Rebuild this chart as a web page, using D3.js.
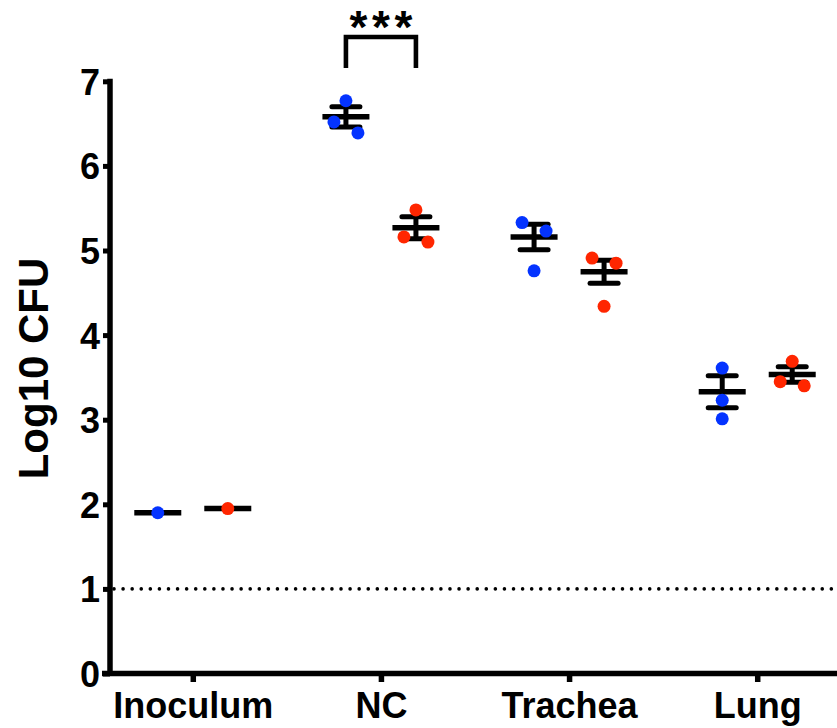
<!DOCTYPE html>
<html>
<head>
<meta charset="utf-8">
<script src="https://cdn.jsdelivr.net/npm/d3@7"></script>
<style>
  html, body { margin: 0; padding: 0; background: #fff; }
  svg { display: block; }
  text { font-family: "Liberation Sans", Arial, Helvetica, sans-serif; font-weight: bold; fill: #000; }
</style>
</head>
<body>
<svg id="chart" width="837" height="728"></svg>
<script>
// ---- data ----
const categories = ["Inoculum", "NC", "Trachea", "Lung"];
const seriesNames = ["blue", "red"];
const blueValues = [[1.90], [6.77, 6.52, 6.39], [5.33, 5.23, 4.76], [3.61, 3.23, 3.01]];
const redValues  = [[1.95], [5.48, 5.16, 5.10], [4.91, 4.85, 4.34], [3.69, 3.45, 3.40]];
const blueMeans = [1.90, 6.58, 5.16, 3.33];
const blueSEM   = [0, 0.12, 0.15, 0.19];
const redMeans  = [1.95, 5.27, 4.75, 3.535];
const redSEM    = [0, 0.13, 0.136, 0.091];
const yTicks = [0, 1, 2, 3, 4, 5, 6, 7];
const limitOfDetection = 1;
const yTitle = "Log10 CFU";
const significance = { from: "NC", label: "***" };

const colors = { blue: "#0433ff", red: "#ff2600" };

const svg = d3.select("#chart");
const x = d3.scalePoint().domain(categories).range([110, 840]).padding(0.44);
const sub = d3.scalePoint().domain(seriesNames).range([-35, 35]);
const y = d3.scaleLinear().domain([0, 7]).range([673.5, 81.3]);

const series = [
  { name: "blue", values: blueValues, means: blueMeans, sem: blueSEM },
  { name: "red", values: redValues, means: redMeans, sem: redSEM }
];

// limit of detection dotted line
svg.append("line")
  .attr("x1", x.range()[0] + 4).attr("x2", 837)
  .attr("y1", y(limitOfDetection)).attr("y2", y(limitOfDetection))
  .attr("stroke", "#000").attr("stroke-width", 3.6)
  .attr("stroke-linecap", "round").attr("stroke-dasharray", "0.01 9.07");

// axes
const yAxis = d3.axisLeft(y).tickValues(yTicks).tickFormat(d3.format("d"))
  .tickSize(7).tickSizeOuter(0).tickPadding(3);
const gy = svg.append("g").attr("transform", "translate(110,0)").call(yAxis);
gy.select(".domain").attr("stroke-width", 5.5).attr("d", `M0,${y(0)}V${y(7) - 2.5}`);
gy.selectAll(".tick line").attr("stroke-width", 5).attr("x1", 0);
gy.selectAll(".tick text").attr("font-size", 36).attr("dy", "0.36em").attr("font-family", null);

const xAxis = d3.axisBottom(x).tickSize(8.5).tickSizeOuter(0).tickPadding(10);
const gx = svg.append("g").attr("transform", `translate(0,${y(0)})`).call(xAxis);
gx.select(".domain").attr("stroke-width", 5.5).attr("d", `M102,0H840`);
gx.selectAll(".tick line").attr("stroke-width", 5.5);
gx.selectAll(".tick text").attr("font-size", 36).attr("font-family", null);

// axis title
svg.append("text")
  .attr("transform", "translate(48,368.5) rotate(-90)")
  .attr("text-anchor", "middle")
  .attr("font-size", 42)
  .text(yTitle);

// error bars and means
const meanHalf = 23.5, capHalf = 14;
series.forEach(s => {
  const g = svg.append("g");
  categories.forEach((c, i) => {
    const cx = x(c) + sub(s.name);
    const m = s.means[i], e = s.sem[i];
    if (e > 0) {
      g.append("line").attr("x1", cx).attr("x2", cx).attr("y1", y(m + e)).attr("y2", y(m - e))
        .attr("stroke", "#000").attr("stroke-width", 5);
      [m + e, m - e].forEach(v => {
        g.append("line").attr("x1", cx - capHalf).attr("x2", cx + capHalf)
          .attr("y1", y(v)).attr("y2", y(v))
          .attr("stroke", "#000").attr("stroke-width", 5).attr("stroke-linecap", "round");
      });
    }
    g.append("line").attr("x1", cx - meanHalf).attr("x2", cx + meanHalf)
      .attr("y1", y(m)).attr("y2", y(m))
      .attr("stroke", "#000").attr("stroke-width", 5.5);
  });
});

// points with simple collision spreading
const r = 6.5;
series.forEach(s => {
  categories.forEach((c, i) => {
    const cx = x(c) + sub(s.name);
    const pts = s.values[i].map(v => ({ v, py: y(v), dx: 0 })).sort((a, b) => a.py - b.py);
    for (let k = 0; k < pts.length - 1; k++) {
      if (pts[k + 1].py - pts[k].py < 2 * r + 2 && pts[k].dx === 0) {
        pts[k].dx = -12; pts[k + 1].dx = 12; k++;
      }
    }
    svg.append("g").selectAll("circle").data(pts).join("circle")
      .attr("cx", d => cx + d.dx).attr("cy", d => d.py).attr("r", r)
      .attr("fill", colors[s.name]);
  });
});

// significance bracket
const bx1 = x(significance.from) + sub("blue");
const bx2 = x(significance.from) + sub("red");
const byTop = 37, byBot = 68;
svg.append("path")
  .attr("d", `M${bx1},${byBot}V${byTop}H${bx2}V${byBot}`)
  .attr("fill", "none").attr("stroke", "#000").attr("stroke-width", 4.6);
svg.append("text")
  .attr("x", (bx1 + bx2) / 2 + 2.3).attr("y", 43)
  .attr("text-anchor", "middle").attr("font-size", 46)
  .attr("letter-spacing", 4.6)
  .text(significance.label);
</script>
</body>
</html>
